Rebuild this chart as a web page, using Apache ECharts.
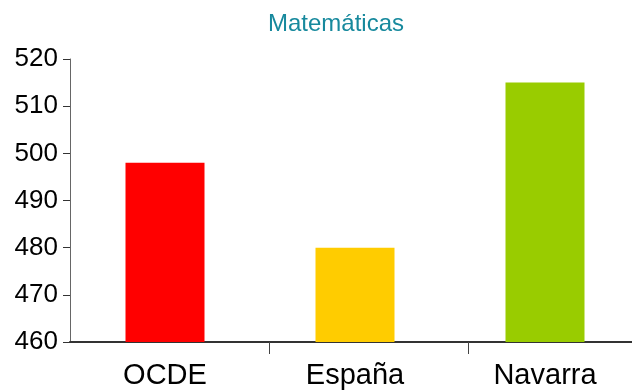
<!DOCTYPE html>
<html>
<head>
<meta charset="utf-8">
<script src="https://cdn.jsdelivr.net/npm/echarts@6/dist/echarts.min.js"></script>
<style>
  html, body { margin: 0; padding: 0; background: #fff; }
  #chart { width: 632px; height: 391px; }
</style>
</head>
<body>
<div id="chart"></div>
<script>
// PISA mathematics scores
const categories = ['OCDE', 'España', 'Navarra'];
const scores = [498, 480, 515];
const barColors = ['#FF0000', '#FFCC00', '#99CC00'];
const titleText = 'Matemáticas';
const yMin = 460;
const yMax = 520;
const yStep = 10;

const chart = echarts.init(document.getElementById('chart'), null, { renderer: 'canvas' });

const font = 'Liberation Sans, Arial, sans-serif';

chart.setOption({
  animation: false,
  backgroundColor: '#ffffff',
  title: {
    text: titleText,
    left: 331,
    textAlign: 'center',
    top: 7,
    textStyle: { color: '#17899D', fontSize: 24, fontWeight: 'normal', fontFamily: font }
  },
  grid: [
    { left: 70, top: 59, right: -8, bottom: 49, containLabel: false, outerBoundsMode: 'none' },
    // separate grid carrying only the category divider ticks
    { left: 70, top: 59, right: -35, bottom: 49, containLabel: false, outerBoundsMode: 'none' }
  ],
  xAxis: [
    {
      type: 'category',
      gridIndex: 0,
      data: categories,
      axisLine: { show: true, lineStyle: { color: '#333333', width: 2 } },
      axisTick: { show: false },
      axisLabel: { color: '#000000', fontSize: 29, fontFamily: font, margin: 19 },
      splitLine: { show: false }
    },
    {
      type: 'category',
      gridIndex: 1,
      data: categories,
      axisLine: { show: false },
      axisTick: {
        show: true,
        length: 12,
        interval: function (index) { return index !== 0; },
        lineStyle: { color: '#444444', width: 1 }
      },
      axisLabel: { show: false },
      splitLine: { show: false }
    }
  ],
  yAxis: [
    {
      type: 'value',
      gridIndex: 0,
      min: yMin,
      max: yMax,
      interval: yStep,
      axisLine: { show: true, lineStyle: { color: '#666666', width: 1 } },
      axisTick: { show: true, length: 7, lineStyle: { color: '#333333', width: 1 } },
      axisLabel: { color: '#000000', fontSize: 26, fontFamily: font, margin: 12 },
      splitLine: { show: false }
    },
    {
      type: 'value',
      gridIndex: 1,
      min: yMin,
      max: yMax,
      show: false
    }
  ],
  series: [
    {
      type: 'bar',
      xAxisIndex: 0,
      yAxisIndex: 0,
      barWidth: 79,
      data: scores.map((v, i) => ({ value: v, itemStyle: { color: barColors[i] } }))
    }
  ]
});
</script>
</body>
</html>
